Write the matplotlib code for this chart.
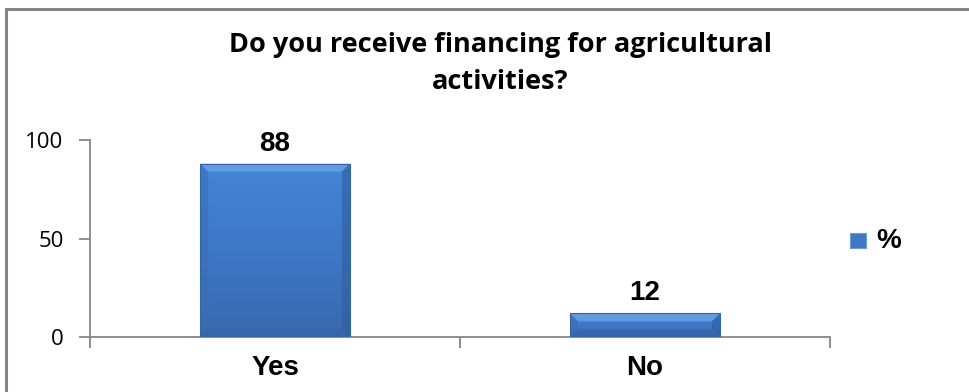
import matplotlib
matplotlib.use("Agg")
import matplotlib.pyplot as plt
import numpy as np
from matplotlib.patches import Rectangle
from matplotlib.colors import LinearSegmentedColormap

categories = ["Yes", "No"]
values = [88, 12]
yticks = [0, 50, 100]
series_name = "%"
title_lines = ["Do you receive financing for agricultural", "activities?"]

W, H = 969, 392
fig = plt.figure(figsize=(W / 100, H / 100), dpi=100)
fig.patch.set_facecolor("white")

# outer chart border (extends past right and bottom edges)
fig.patches.append(Rectangle((6 / W, -0.1), 1.2, (H - 9) / H + 0.1, transform=fig.transFigure,
                             fill=False, edgecolor="#868686", linewidth=2.2))

ax = fig.add_axes([90 / W, (H - 337) / H, (830 - 90) / W, (337 - 140) / H])
ax.set_xlim(-0.5, len(categories) - 0.5)
ax.set_ylim(0, 100)

gray = "#868686"
for s in ["top", "right"]:
    ax.spines[s].set_visible(False)
for s in ["left", "bottom"]:
    ax.spines[s].set_color(gray)
    ax.spines[s].set_linewidth(1.3)

width = 0.405
x = np.arange(len(categories))
bars = ax.bar(x, values, width=width, color="#3C78C8", edgecolor="none", zorder=2)

# gradient + bevel effect for each bar
cmap = LinearSegmentedColormap.from_list("b", ["#3A69AE", "#3E78C6", "#4485D7"])
grad = np.linspace(0, 1, 256).reshape(-1, 1)
for b in bars:
    x0, y0, w, h = b.get_x(), b.get_y(), b.get_width(), b.get_height()
    im = ax.imshow(grad, extent=[x0, x0 + w, y0, y0 + h], origin="lower", cmap=cmap,
                   aspect="auto", zorder=3)
    im.set_clip_path(b)
    bx = 8 / 740 * 2
    by = 8 / 197 * 100
    byy = min(by, h / 2)
    bxx = bx
    top = plt.Polygon([[x0, y0 + h], [x0 + w, y0 + h], [x0 + w - bxx, y0 + h - byy], [x0 + bxx, y0 + h - byy]],
                      closed=True, facecolor="#6FA6E8", edgecolor="none", alpha=0.7, zorder=4)
    left = plt.Polygon([[x0, y0], [x0, y0 + h], [x0 + bxx, y0 + h - byy], [x0 + bxx, y0 + byy]],
                       closed=True, facecolor="#3A6DB4", edgecolor="none", alpha=0.5, zorder=4)
    right = plt.Polygon([[x0 + w, y0], [x0 + w, y0 + h], [x0 + w - bxx, y0 + h - byy], [x0 + w - bxx, y0 + byy]],
                        closed=True, facecolor="#2F5E9E", edgecolor="none", alpha=0.6, zorder=4)
    bottom = plt.Polygon([[x0, y0], [x0 + w, y0], [x0 + w - bxx, y0 + byy], [x0 + bxx, y0 + byy]],
                         closed=True, facecolor="#335F9C", edgecolor="none", alpha=0.35, zorder=4)
    for p in (top, left, right, bottom):
        ax.add_patch(p)
    ax.add_patch(Rectangle((x0, y0), w, h, fill=False, edgecolor="#3565A5", linewidth=0.8, zorder=5))
    ax.text(x0 + w / 2, y0 + h + 3.5, f"{int(h)}", ha="center", va="bottom",
            fontsize=20, fontweight="bold", family="Liberation Sans", zorder=6)

ax.set_yticks(yticks)
ax.set_yticklabels([str(v) for v in yticks], fontsize=16, family="Open Sans")
ax.tick_params(axis="y", direction="out", length=8, color=gray, width=1.3, pad=11)

ax.set_xticks(np.arange(len(categories) + 1) - 0.5)
ax.set_xticklabels([])
ax.tick_params(axis="x", which="major", direction="out", length=8, color=gray, width=1.3)
ax.set_xticks(x, minor=True)
ax.set_xticklabels(categories, minor=True, fontsize=20, fontweight="bold", family="Liberation Sans")
ax.tick_params(axis="x", which="minor", length=0, pad=13)

fig.text(500 / W, 1 - 45 / H, title_lines[0], ha="center", va="center", fontsize=19.5,
         fontweight="bold", family="Open Sans")
fig.text(500 / W, 1 - 82 / H, title_lines[1], ha="center", va="center", fontsize=19.5,
         fontweight="bold", family="Open Sans")

# legend
fig.patches.append(Rectangle((850 / W, 1 - 248 / H), 16 / W, 15 / H, transform=fig.transFigure,
                             facecolor="#3E78C6", edgecolor="#6F9BD6", linewidth=0.8))
fig.text(876 / W, 1 - 241 / H, series_name, ha="left", va="center", fontsize=20,
         fontweight="bold", family="Liberation Sans")

fig.savefig("out.png", dpi=100)
